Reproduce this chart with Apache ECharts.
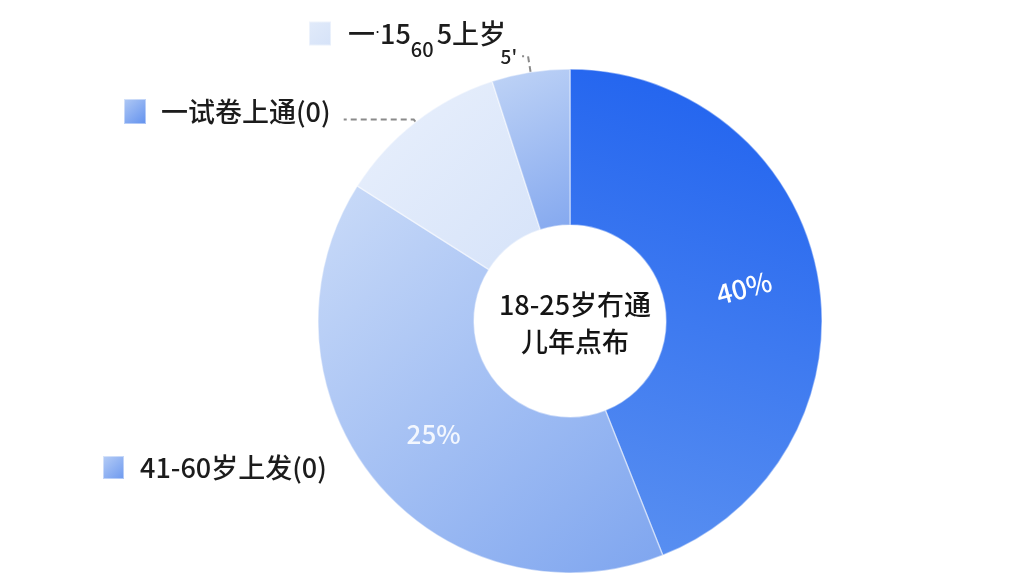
<!DOCTYPE html>
<html><head><meta charset="utf-8">
<script src="https://cdn.jsdelivr.net/npm/echarts@6/dist/echarts.min.js"></script>
<style>html,body{margin:0;padding:0;background:#fff}#c{width:1024px;height:576px}</style>
</head><body><div id="c"></div>
<script>
// ---- data ----
const sliceNames = ['18-25岁', '41-60岁上发(0)', '一试卷上通(0)', '一·15 60 5上岁'];
const sliceValues = [44, 40, 11, 5];
const sliceLabels = ['40%', '25%', ' ', "5'"];
const centerTitle = ['18-25岁冇通', '儿年点布'];

const FONT = '"Noto Sans CJK SC", "Noto Sans", sans-serif';
const G = echarts.graphic.LinearGradient;
const sliceColors = [
  new G(0.6, 0, 0, 1, [{offset: 0, color: '#2163ef'}, {offset: 1, color: '#5b91f1'}]),
  new G(0, 0, 1, 1, [{offset: 0, color: '#cadbf8'}, {offset: 1, color: '#7ea5ef'}]),
  new G(0, 0, 1, 1, [{offset: 0, color: '#e9f0fc'}, {offset: 1, color: '#d6e3f9'}]),
  new G(0, 0, 1, 1, [{offset: 0, color: '#c0d4f6'}, {offset: 1, color: '#84a8ef'}])
];
const legendIconColors = [
  null,
  new G(0, 0, 1, 1, [{offset: 0, color: '#b9cff6'}, {offset: 1, color: '#6a97ef'}]),
  new G(0, 0, 1, 1, [{offset: 0, color: '#b3cbf5'}, {offset: 1, color: '#5f8fee'}]),
  new G(0, 0, 1, 1, [{offset: 0, color: '#e2ebfa'}, {offset: 1, color: '#d5e2f8'}])
];

const itemLabelCfg = [
  {position: 'inside', rotate: 15, color: '#ffffff', fontSize: 27},
  {position: 'inside', color: '#f3f7fe', fontSize: 26},
  {position: 'outside', color: '#555', fontSize: 16},
  {position: 'outside', color: '#222', fontSize: 19}
];
const itemLineCfg = [
  {show: false},
  {show: false},
  {show: true, length: 3, length2: 70, smooth: false, lineStyle: {color: '#8a8a8a', width: 2, type: [6, 4]}},
  {show: true, length: 16, length2: 6, smooth: false, lineStyle: {color: '#8a8a8a', width: 2, type: [6, 4]}}
];

const pieData = sliceValues.map((v, i) => ({
  value: v,
  name: sliceNames[i],
  itemStyle: {color: sliceColors[i]},
  label: Object.assign({show: true, formatter: () => sliceLabels[i], fontFamily: FONT, fontWeight: 500}, itemLabelCfg[i]),
  labelLine: itemLineCfg[i]
}));

function mkLegend(idx, left, top, w, h, pad, fmt, rich) {
  return {
    left: left, top: top, padding: 0, orient: 'horizontal',
    selectedMode: false, icon: 'rect', itemWidth: w, itemHeight: h,
    data: [{name: sliceNames[idx], itemStyle: {color: legendIconColors[idx]}}],
    formatter: fmt,
    textStyle: {fontFamily: FONT, fontSize: 27, fontWeight: 500, color: '#1c1c1c', padding: [0, 0, 0, pad], rich: rich}
  };
}

const chart = echarts.init(document.getElementById('c'), null, {renderer: 'canvas'});
chart.setOption({
  backgroundColor: '#ffffff',
  animation: false,
  title: {
    text: centerTitle.join('\n'),
    left: 570, top: 281, textAlign: 'center',
    textStyle: {fontFamily: FONT, fontSize: 27, fontWeight: 500, color: '#151515', lineHeight: 37}
  },
  legend: [
    mkLegend(3, 308, 20, 22, 24, 12,
      () => '{a|一}{d|·}{a|15}{s|60}{a|5上岁}',
      {a: {fontFamily: FONT, fontSize: 27, fontWeight: 500, color: '#1c1c1c'},
       d: {fontFamily: 'DejaVu Sans', fontSize: 16, color: '#1c1c1c'},
       s: {fontFamily: FONT, fontSize: 20, fontWeight: 500, color: '#1c1c1c', padding: [32, 3, 0, 0]}}),
    mkLegend(2, 123, 98, 22, 25, 10, '{name}'),
    mkLegend(1, 102, 454, 21, 23, 11, '{name}')
  ],
  series: [{
    type: 'pie',
    center: [570, 321],
    radius: [96, 252],
    startAngle: 90,
    clockwise: true,
    avoidLabelOverlap: false,
    itemStyle: {borderColor: 'rgba(255,255,255,0.45)', borderWidth: 1.5},
    emphasis: {disabled: true},
    data: pieData
  }]
});
</script></body></html>
